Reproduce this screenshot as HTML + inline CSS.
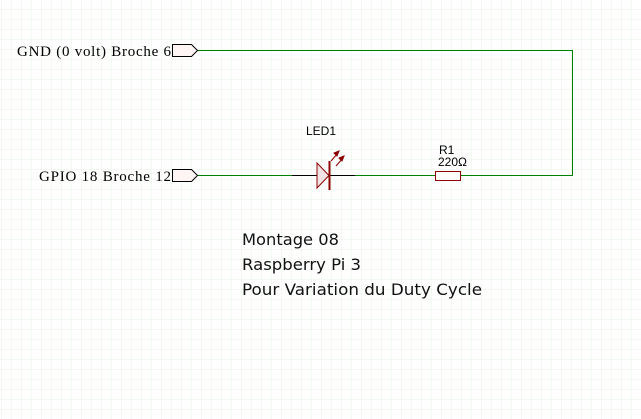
<!DOCTYPE html>
<html><head><style>
html,body{margin:0;padding:0;background:#fff;}
svg{display:block}
</style></head><body>
<svg width="641" height="419" xmlns="http://www.w3.org/2000/svg">
<defs>
<pattern id="g" width="10" height="10" patternUnits="userSpaceOnUse" x="2" y="0">
<path d="M10 0V10M0 10H10" fill="none" stroke="#e3f3e3" stroke-width="1"/>
</pattern>
</defs>
<rect width="641" height="419" fill="#fff"/>
<rect width="641" height="419" fill="url(#g)"/>
<polyline points="197,50.5 572.5,50.5 572.5,175.5 461,175.5" fill="none" stroke="#008000" stroke-width="1"/>
<line x1="197" y1="175.5" x2="292" y2="175.5" stroke="#008000"/>
<line x1="292" y1="175.5" x2="355" y2="175.5" stroke="#000"/>
<line x1="355" y1="175.5" x2="435" y2="175.5" stroke="#008000"/>
<polygon points="172.5,44.5 191.5,44.5 197.5,50.5 191.5,56.5 172.5,56.5" fill="#fff5f5" stroke="#000"/>
<polygon points="172.5,169.5 191.5,169.5 197.5,175.5 191.5,181.5 172.5,181.5" fill="#fff5f5" stroke="#000"/>
<text x="171" y="56" font-family="Liberation Serif, serif" font-size="15" text-anchor="end" textLength="154">GND (0 volt) Broche 6</text>
<text x="171" y="181" font-family="Liberation Serif, serif" font-size="15" text-anchor="end" textLength="132">GPIO 18 Broche 12</text>
<polygon points="317,163 329,175.5 317,188" fill="#f2e4e4" stroke="#8b0000" stroke-width="1"/>
<line x1="329.5" y1="161" x2="329.5" y2="190" stroke="#8b0000" stroke-width="2"/>
<g stroke="#8b0000" stroke-width="1" fill="#8b0000">
<line x1="331" y1="161" x2="338" y2="153"/><polygon points="339,151 334,153 337,156"/>
<line x1="336" y1="166" x2="343" y2="158"/><polygon points="344,156 339,158 342,161"/>
</g>
<rect x="435.5" y="171.5" width="25" height="9" fill="#fff" stroke="#8b0000"/>
<text x="306" y="135" font-family="Liberation Sans, sans-serif" font-size="12">LED1</text>
<text x="439" y="154" font-family="Liberation Sans, sans-serif" font-size="12">R1</text>
<text x="438" y="166" font-family="Liberation Sans, sans-serif" font-size="12">220Ω</text>
<g font-family="DejaVu Sans, Verdana, sans-serif" font-size="16" fill="#111">
<text x="242" y="245" textLength="97" lengthAdjust="spacingAndGlyphs">Montage 08</text>
<text x="242" y="270" textLength="119" lengthAdjust="spacingAndGlyphs">Raspberry Pi 3</text>
<text x="242" y="295" textLength="240" lengthAdjust="spacingAndGlyphs">Pour Variation du Duty Cycle</text>
</g>
</svg>
</body></html>
